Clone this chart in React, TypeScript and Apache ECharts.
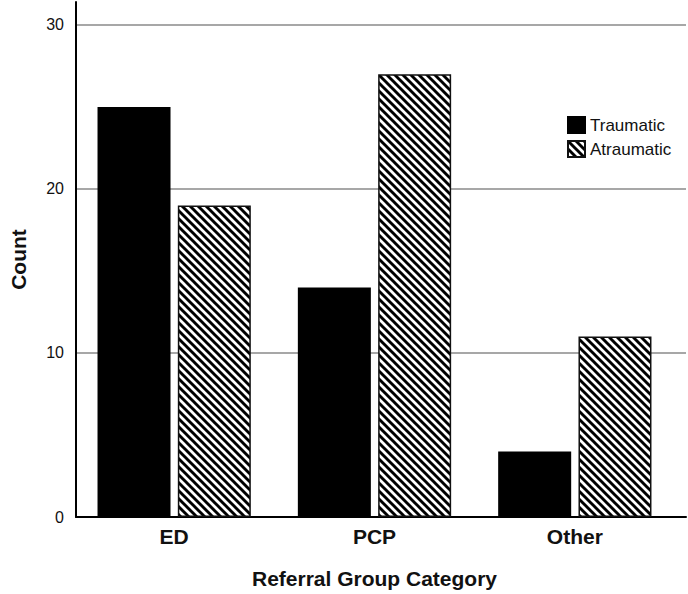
import React, { useEffect, useRef } from "react";
import * as echarts from "echarts";

const categories = ["ED", "PCP", "Other"];
const traumatic = [25, 14, 4];
const atraumatic = [19, 27, 11];
const yTicks = [0, 10, 20, 30];
const seriesNames = ["Traumatic", "Atraumatic"];

const FONT = "'Liberation Sans', Arial, Helvetica, sans-serif";

function makeHatch() {
  const c = document.createElement("canvas");
  c.width = 8;
  c.height = 8;
  const ctx = c.getContext("2d")!;
  ctx.fillStyle = "#ffffff";
  ctx.fillRect(0, 0, 8, 8);
  ctx.strokeStyle = "#000000";
  ctx.lineWidth = 2.9;
  ctx.beginPath();
  ctx.moveTo(-2, -2);
  ctx.lineTo(10, 10);
  ctx.moveTo(-2, 6);
  ctx.lineTo(2, 10);
  ctx.moveTo(6, -2);
  ctx.lineTo(10, 2);
  ctx.stroke();
  return c;
}

export default function App() {
  const ref = useRef<HTMLDivElement>(null);
  useEffect(() => {
    if (!ref.current) return;
    const chart = echarts.init(ref.current, undefined, { renderer: "svg" });
    const hatch = makeHatch();
    const yMax = 31.4;
    chart.setOption({
      animation: false,
      backgroundColor: "#ffffff",
      textStyle: { fontFamily: FONT },
      legend: {
        orient: "vertical",
        left: 562,
        top: 111,
        itemWidth: 17,
        itemHeight: 16,
        itemGap: 6,
        icon: "rect",
        data: seriesNames,
        textStyle: { fontSize: 17, color: "#111", fontFamily: FONT },
      },
      grid: [
        { left: 64, right: 2, top: 2, bottom: 77, containLabel: false },
        { left: 74, right: 13, top: 2, bottom: 77, containLabel: false },
      ],
      xAxis: [
        {
          type: "value",
          gridIndex: 0,
          min: 0,
          max: 1,
          axisLine: { show: true, lineStyle: { color: "#000", width: 2 } },
          axisTick: { show: false },
          axisLabel: { show: false },
          splitLine: { show: false },
        },
        {
          type: "category",
          gridIndex: 1,
          data: categories,
          axisLine: { show: false },
          axisTick: { show: false },
          axisLabel: {
            margin: 9,
            fontSize: 21,
            fontWeight: "bold",
            color: "#111",
            fontFamily: FONT,
          },
          name: "Referral Group Category",
          nameLocation: "middle",
          nameGap: 51,
          nameTextStyle: { fontSize: 21, fontWeight: "bold", color: "#111", fontFamily: FONT },
        },
      ],
      yAxis: [
        {
          type: "value",
          gridIndex: 0,
          min: 0,
          max: yMax,
          interval: 10,
          axisLine: { show: true, lineStyle: { color: "#000", width: 2 } },
          axisTick: { show: false },
          axisLabel: {
            margin: 12,
            fontSize: 16,
            color: "#111",
            fontFamily: FONT,
            formatter: (v: number) => (yTicks.includes(v) ? String(v) : ""),
          },
          splitLine: {
            show: true,
            showMaxLine: false,
            lineStyle: { color: "#8a8a8a", width: 1.5 },
          },
          name: "Count",
          nameLocation: "middle",
          nameGap: 47,
          nameTextStyle: { fontSize: 21, fontWeight: "bold", color: "#111", fontFamily: FONT },
        },
        {
          type: "value",
          gridIndex: 1,
          min: 0,
          max: yMax,
          interval: 10,
          show: false,
        },
      ],
      series: [
        {
          name: seriesNames[0],
          type: "bar",
          xAxisIndex: 1,
          yAxisIndex: 1,
          data: traumatic,
          barWidth: 73,
          barGap: "10%",
          itemStyle: { color: "#000", borderColor: "#000", borderWidth: 1.5 },
        },
        {
          name: seriesNames[1],
          type: "bar",
          xAxisIndex: 1,
          yAxisIndex: 1,
          data: atraumatic,
          barWidth: 73,
          barGap: "10%",
          itemStyle: {
            color: { image: hatch, repeat: "repeat" },
            borderColor: "#111",
            borderWidth: 1.5,
          },
        },
      ],
    });
    return () => chart.dispose();
  }, []);
  return <div ref={ref} style={{ width: 688, height: 594, position: "absolute", left: 0, top: 0 }} />;
}
